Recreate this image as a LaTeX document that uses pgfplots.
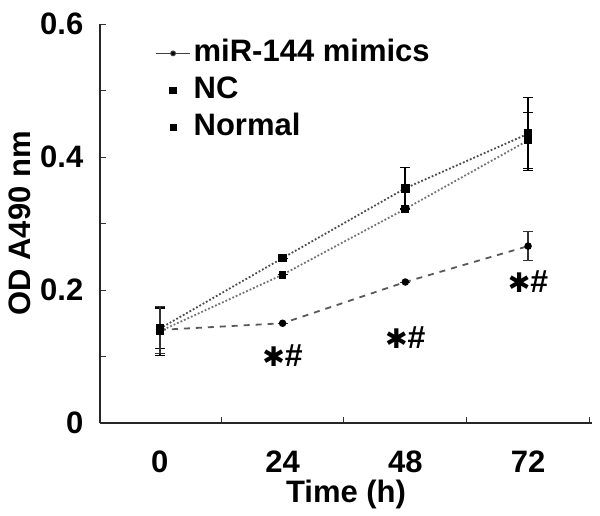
\documentclass[border=0pt]{standalone}
\usepackage{fontspec}
\setmainfont{Liberation Sans}
\newfontfamily\djv{DejaVu Sans}
\usepackage{pgfplots}
\pgfplotsset{compat=1.18}
\newcommand{\sig}{{\djv\mdseries\fontsize{13.5}{15}\selectfont ✱}{\fontsize{16}{17}\selectfont\bfseries\#}}

\begin{document}
\fontsize{15.5}{17}\selectfont\bfseries
\begin{tikzpicture}
\useasboundingbox (0,0) rectangle (300pt,257.5pt);
\begin{axis}[
    at={(50pt,46pt)}, anchor=south west,
    scale only axis,
    width=246pt, height=199.5pt,
    xmin=-11.7, xmax=84.5,
    ymin=0, ymax=0.6,
    axis x line=bottom, axis y line=left,
    axis line style={-, line width=0.7pt, black!85},
    x axis line style={line width=1pt},
    tick align=inside,
    major tick length=3pt, minor tick length=3pt,
    tick style={black!80, line width=0.5pt},
    xtick={12,36,60,84}, xticklabels={},
    extra x ticks={0,24,48,72},
    extra x tick style={major tick length=0pt},
    xticklabel style={anchor=center, yshift=-19.5pt},
    ytick={0,0.2,0.4,0.6},
    minor ytick={0.1,0.3,0.5},
    yticklabel style={xshift=-3pt},
    /pgf/number format/assume math mode=true,
    xlabel={Time (h)},
    ylabel={OD A490 nm},
    xlabel style={at={(axis description cs:0.5,0)}, anchor=center, yshift=-35.5pt},
    ylabel style={at={(axis description cs:0,0.5)}, anchor=center, yshift=40pt},
    legend style={draw=none, fill=none, at={(0.112,0.97)}, anchor=north west,
        row sep=1.5pt, inner sep=0pt,
        nodes={inner sep=1.5pt, text height=11pt, text depth=3pt}},
    legend cell align=left,
    clip=false,
]
% legend images
\addlegendimage{black!75, line width=0.5pt, mark=*, mark size=1.2pt, mark options={fill=black}}
\addlegendentry{miR-144 mimics}
\addlegendimage{only marks, mark=square*, mark size=1.7pt, black}
\addlegendentry{NC}
\addlegendimage{only marks, mark=square*, mark size=1.5pt, black}
\addlegendentry{Normal}

% NC
\addplot[black!70, densely dotted, line width=0.9pt, forget plot,
    mark=square*, mark size=1.7pt, mark options={solid, fill=black, draw=black},
    error bars/.cd, y dir=both, y explicit,
    error bar style={black, solid, line width=1pt}, error mark options={rotate=90, mark size=2.5pt, black}]
    table[x=t, y=v, y error=e] {
t  v      e
0  0.142  0.030
24 0.248  0.000
48 0.353  0.032
72 0.435  0.055
};
% Normal
\addplot[black!55, densely dotted, line width=0.9pt, forget plot,
    mark=square*, mark size=1.5pt, mark options={solid, fill=black, draw=black},
    error bars/.cd, y dir=both, y explicit,
    error bar style={black, solid, line width=1pt}, error mark options={rotate=90, mark size=2.5pt, black}]
    table[x=t, y=v, y error=e] {
t  v      e
0  0.138  0.036
24 0.223  0.000
48 0.322  0.000
72 0.425  0.042
};
% miR-144 mimics
\addplot[black!65, dashed, line width=0.9pt, forget plot,
    mark=*, mark size=1.4pt, mark options={solid, fill=black, draw=black},
    error bars/.cd, y dir=both, y explicit,
    error bar style={black!80, solid, line width=0.7pt}, error mark options={rotate=90, mark size=2.5pt, black!80}]
    table[x=t, y=v, y error=e] {
t  v      e
0  0.140  0.035
24 0.150  0.000
48 0.212  0.000
72 0.266  0.022
};

\node at (axis cs:24,0.102) {\sig};
\node at (axis cs:48,0.128) {\sig};
\node at (axis cs:72,0.212) {\sig};
\end{axis}
\end{tikzpicture}
\end{document}
